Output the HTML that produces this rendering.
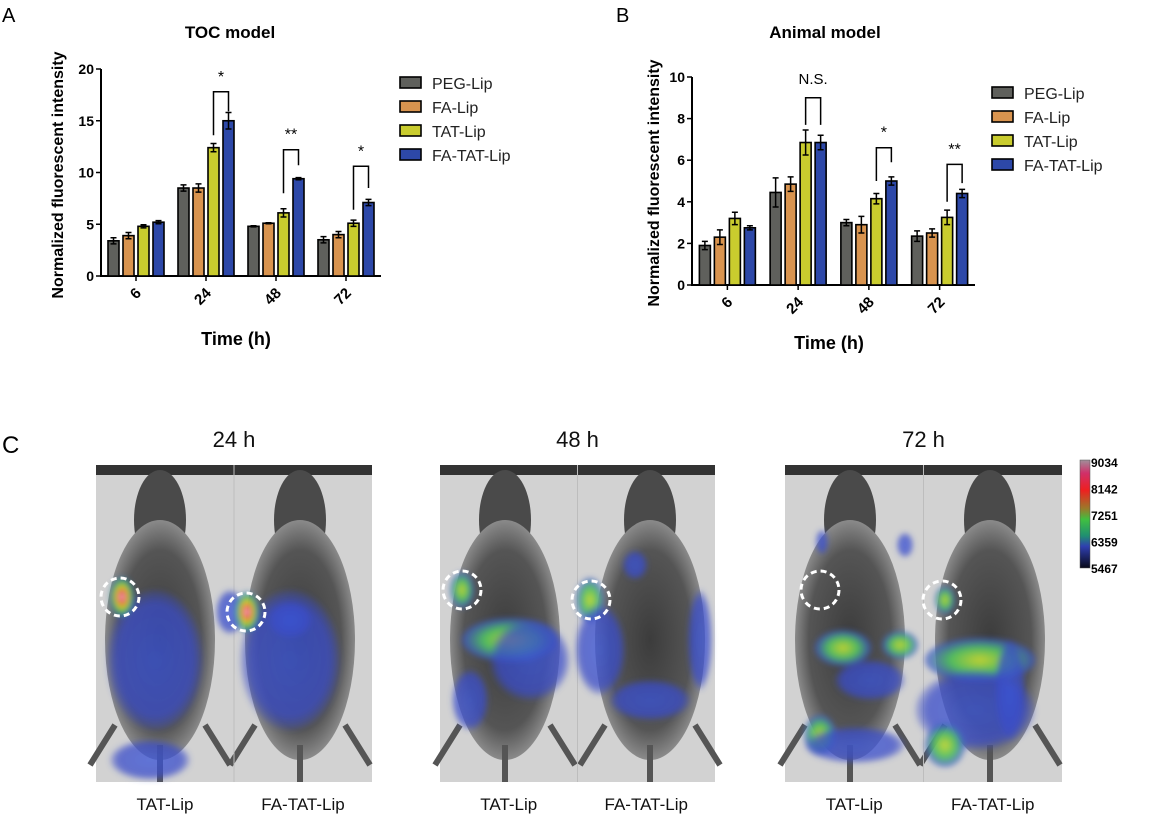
<!DOCTYPE html>
<html><head><meta charset="utf-8">
<style>
body{margin:0;background:#fff;width:1167px;height:821px;overflow:hidden;font-family:"Liberation Sans",sans-serif;}
svg{display:block}
</style></head>
<body>
<svg id="fig" width="1167" height="821" viewBox="0 0 1167 821" xmlns="http://www.w3.org/2000/svg">
<defs>
<linearGradient id="cbar" x1="0" y1="0" x2="0" y2="1">
<stop offset="0" stop-color="#a08f9a"/><stop offset="0.12" stop-color="#d0306a"/><stop offset="0.28" stop-color="#ee2020"/><stop offset="0.45" stop-color="#9a7a2a"/><stop offset="0.55" stop-color="#40c040"/><stop offset="0.7" stop-color="#209070"/><stop offset="0.8" stop-color="#2f3fb0"/><stop offset="1" stop-color="#080818"/>
</linearGradient>
<radialGradient id="hot"><stop offset="0" stop-color="#fff"/><stop offset="0.25" stop-color="#ee3050"/><stop offset="0.5" stop-color="#e0d020"/><stop offset="0.75" stop-color="#40c050"/><stop offset="1" stop-color="#3050d0" stop-opacity="0.7"/></radialGradient>
<radialGradient id="grn"><stop offset="0" stop-color="#c8d830"/><stop offset="0.55" stop-color="#50c060"/><stop offset="1" stop-color="#3a50d0" stop-opacity="0.7"/></radialGradient>
<radialGradient id="blu"><stop offset="0" stop-color="#3a55d8"/><stop offset="0.8" stop-color="#3a4cc8"/><stop offset="1" stop-color="#3a4cc8" stop-opacity="0.3"/></radialGradient>
<radialGradient id="body" cx="0.5" cy="0.5" r="0.5"><stop offset="0" stop-color="#3c3c3c"/><stop offset="0.75" stop-color="#555"/><stop offset="1" stop-color="#8a8a8a"/></radialGradient>
<filter id="soft"><feGaussianBlur stdDeviation="3"/></filter>
</defs>
<g id="chartA"></g>
<g id="chartB"></g>
<g id="panelC"></g>
</svg>
<script>
const NS="http://www.w3.org/2000/svg";
const seriesNames=["PEG-Lip","FA-Lip","TAT-Lip","FA-TAT-Lip"];
const seriesColors=["#5f605c","#d9944f","#c9cc2e","#2d48a8"];
const categories=["6","24","48","72"];
// Chart A values
const aPEG=[3.4,8.5,4.8,3.5];
const aFA=[3.9,8.5,5.1,4.0];
const aTAT=[4.8,12.4,6.1,5.1];
const aFATAT=[5.2,15.0,9.4,7.1];
const aErrPEG=[0.3,0.3,0.05,0.3];
const aErrFA=[0.3,0.4,0.05,0.3];
const aErrTAT=[0.15,0.4,0.4,0.3];
const aErrFATAT=[0.15,0.8,0.1,0.3];
const aTicks=[0,5,10,15,20];
const aSig=["","*","**","*"];
const aBracketTop=[null,17.8,12.2,10.6];
const aBracketLeft=[null,13.6,8.0,6.4];
const aBracketRight=[null,15.9,10.7,8.5];
// Chart B values
const bPEG=[1.9,4.45,3.0,2.35];
const bFA=[2.3,4.85,2.9,2.5];
const bTAT=[3.2,6.85,4.15,3.25];
const bFATAT=[2.75,6.85,5.0,4.4];
const bErrPEG=[0.2,0.7,0.15,0.25];
const bErrFA=[0.35,0.35,0.4,0.2];
const bErrTAT=[0.3,0.6,0.25,0.35];
const bErrFATAT=[0.1,0.35,0.2,0.2];
const bTicks=[0,2,4,6,8,10];
const bSig=["","N.S.","*","**"];
const bBracketTop=[null,9.0,6.6,5.8];
const bBracketLeft=[null,7.7,5.0,4.0];
const bBracketRight=[null,7.7,5.9,4.9];
const cbLabels=["9034","8142","7251","6359","5467"];

function el(tag,attrs,parent,text){const e=document.createElementNS(NS,tag);for(const k in attrs)e.setAttribute(k,attrs[k]);if(text!==undefined)e.textContent=text;parent.appendChild(e);return e;}

function drawChart(g,cfg){
  const {x0,x1,y0,y1,ymax,ticks,vals,errs,sig,bt,bl,br,title,titleX,ylabX,ylabY,timeX,timeY,legX,legY}=cfg;
  const ys=v=>y0-(v/ymax)*(y0-y1);
  const band=(x1-x0)/categories.length;
  const bw=11,step=15;
  const barX=(ci,si)=>x0+band*(ci+0.5)-28+si*step;
  let t=el('text',{x:titleX,y:38,'text-anchor':'middle','font-size':17,'font-weight':'bold'},g,title);
  
  let ax=el('line',{x1:x0,y1:y1,x2:x0,y2:y0,stroke:'#000','stroke-width':2},g);
  
  let xa=el('line',{x1:x0-1,y1:y0,x2:x1,y2:y0,stroke:'#000','stroke-width':2},g);
  
  ticks.forEach(v=>{
    el('line',{x1:x0-5,x2:x0,y1:ys(v),y2:ys(v),stroke:'#000','stroke-width':1.5},g);
    const tl=el('text',{x:x0-7,y:ys(v)+5,'text-anchor':'end','font-size':14,'font-weight':'bold'},g,String(v));
    
  });
  categories.forEach((c,ci)=>{
    const cx=x0+band*(ci+0.5);
    el('line',{x1:cx,x2:cx,y1:y0,y2:y0+5,stroke:'#000','stroke-width':1.5},g);
    const tl=el('text',{x:0,y:0,'text-anchor':'end','font-size':15,'font-weight':'bold',transform:`translate(${cx+6},${y0+18}) rotate(-45)`},g,c);
    
    vals.forEach((sv,si)=>{
      const v=sv[ci],e=errs[si][ci],bx=barX(ci,si);
      const r=el('rect',{x:bx,y:ys(v),width:bw,height:y0-ys(v),fill:seriesColors[si],stroke:'#000','stroke-width':1.6},g);
      
      const mx=bx+bw/2;
      const eb=el('path',{d:`M${mx},${ys(v+e)}V${ys(v-e)}M${mx-3},${ys(v+e)}H${mx+3}M${mx-3},${ys(v-e)}H${mx+3}`,stroke:'#000','stroke-width':1.5,fill:'none'},g);
      
    });
    if(bt[ci]!==null){
      const lx=barX(ci,2)+bw/2,rx=barX(ci,3)+bw/2;
      const p=el('path',{d:`M${lx},${ys(bl[ci])}V${ys(bt[ci])}H${rx}V${ys(br[ci])}`,stroke:'#000','stroke-width':1.5,fill:'none'},g);
      
      const s=el('text',{x:(lx+rx)/2,y:ys(bt[ci])-(sig[ci]==='N.S.'?14:10),'text-anchor':'middle','font-size':sig[ci]==='N.S.'?15:16},g,sig[ci]);
      
    }
  });
  const yl=el('text',{x:0,y:0,'text-anchor':'middle','font-size':16,'font-weight':'bold',transform:`translate(${ylabX},${ylabY}) rotate(-90)`},g,'Normalized fluorescent intensity');
  
  const xl=el('text',{x:timeX,y:timeY,'text-anchor':'middle','font-size':18,'font-weight':'bold'},g,'Time (h)');
  
  seriesNames.forEach((n,si)=>{
    const lg=el('g',{},g);
    
    el('rect',{x:legX,y:legY+si*24,width:21,height:11,fill:seriesColors[si],stroke:'#000','stroke-width':1.6},lg);
    el('text',{x:legX+32,y:legY+si*24+12,'font-size':16,fill:'#222'},lg,n);
  });
}
drawChart(document.getElementById('chartA'),{x0:101,x1:381,y0:276,y1:69,ymax:20,ticks:aTicks,
 vals:[aPEG,aFA,aTAT,aFATAT],errs:[aErrPEG,aErrFA,aErrTAT,aErrFATAT],sig:aSig,bt:aBracketTop,bl:aBracketLeft,br:aBracketRight,
 title:'TOC model',titleX:230,ylabX:63,ylabY:175,timeX:236,timeY:345,legX:400,legY:77});
drawChart(document.getElementById('chartB'),{x0:692,x1:975,y0:285,y1:77,ymax:10,ticks:bTicks,
 vals:[bPEG,bFA,bTAT,bFATAT],errs:[bErrPEG,bErrFA,bErrTAT,bErrFATAT],sig:bSig,bt:bBracketTop,bl:bBracketLeft,br:bBracketRight,
 title:'Animal model',titleX:825,ylabX:659,ylabY:183,timeX:829,timeY:349,legX:992,legY:87});
const A=document.getElementById('chartA'),B=document.getElementById('chartB');
let pa=el('text',{x:2,y:22,'font-size':20},A,'A');
let pb=el('text',{x:616,y:22,'font-size':20},B,'B');

// Panel C
const C=document.getElementById('panelC');
let pc=el('text',{x:2,y:453,'font-size':24},C,'C');
const panels=[{x:96,w:276,t:'24 h'},{x:440,w:275,t:'48 h'},{x:785,w:277,t:'72 h'}];
// imaging overlays: [cx,cy,rx,ry,kind]
const overlays=[
 [[155,660,48,70,'b'],[150,760,40,20,'b'],[290,660,50,70,'b'],[290,620,22,18,'b'],[230,612,14,22,'b'],[122,597,12,20,'h'],[247,612,12,20,'h']],
 [[462,590,12,18,'g'],[510,640,48,22,'g'],[470,700,18,30,'b'],[530,660,40,40,'b'],[590,600,14,22,'g'],[635,565,12,14,'b'],[600,650,25,45,'b'],[650,700,40,20,'b'],[700,640,12,50,'b']],
 [[822,542,6,12,'b'],[905,545,8,12,'b'],[843,648,28,18,'g'],[900,645,18,14,'g'],[870,680,35,20,'b'],[820,735,16,20,'g'],[855,745,50,18,'b'],[945,600,10,14,'g'],[980,660,55,22,'g'],[975,710,60,40,'b'],[1010,690,15,50,'b'],[945,745,20,22,'g']]
];
const circles=[[[120,597],[246,612]],[[462,590],[591,600]],[[820,590],[942,600]]];
const mice=[[160,300],[505,650],[850,990]];
panels.forEach((p,pi)=>{
  const y=465,h=317;
  const g=el('g',{},C);
  el('rect',{x:p.x,y:y,width:p.w,height:h,fill:'#d2d2d2'},g);
  el('rect',{x:p.x,y:y,width:p.w,height:10,fill:'#333'},g);
  mice[pi].forEach(cx=>{
    el('ellipse',{cx:cx,cy:y+55,rx:26,ry:50,fill:'#4a4a4a'},g);
    el('ellipse',{cx:cx,cy:y+175,rx:55,ry:120,fill:'url(#body)'},g);
    el('path',{d:`M${cx-45},${y+260}L${cx-70},${y+300}M${cx+45},${y+260}L${cx+70},${y+300}`,stroke:'#555','stroke-width':6},g);
    el('line',{x1:cx,y1:y+280,x2:cx,y2:y+h,stroke:'#555','stroke-width':6},g);
  });
  el('line',{x1:p.x+p.w/2,y1:y,x2:p.x+p.w/2,y2:y+h,stroke:'#bdbdbd','stroke-width':1},g);
  const ov=el('g',{filter:'url(#soft)'},g);
  overlays[pi].forEach(([cx,cy,rx,ry,k])=>{
    const fill=k==='h'?'url(#hot)':k==='g'?'url(#grn)':'url(#blu)';
    el('ellipse',{cx:cx,cy:cy,rx:rx,ry:ry,fill:fill,opacity:k==='b'?0.75:0.95},ov);
  });
  circles[pi].forEach(([cx,cy])=>{
    const c=el('circle',{cx:cx,cy:cy,r:19,fill:'none',stroke:'#fff','stroke-width':3,'stroke-dasharray':'6 4'},g);
    
  });
  const tt=el('text',{x:p.x+p.w/2,y:447,'text-anchor':'middle','font-size':22,fill:'#111'},C,p.t);
  
  const l1=el('text',{x:p.x+p.w*0.25,y:810,'text-anchor':'middle','font-size':17,fill:'#111'},C,'TAT-Lip');
  
  const l2=el('text',{x:p.x+p.w*0.75,y:810,'text-anchor':'middle','font-size':17,fill:'#111'},C,'FA-TAT-Lip');
  
});
const cb=el('rect',{x:1080,y:460,width:10,height:108,fill:'url(#cbar)',stroke:'#555','stroke-width':0.5},C);

cbLabels.forEach((l,i)=>{
  const t=el('text',{x:1091,y:467+i*26.5,'font-size':12,'font-weight':'bold'},C,l);
  
});
</script>
</body></html>
